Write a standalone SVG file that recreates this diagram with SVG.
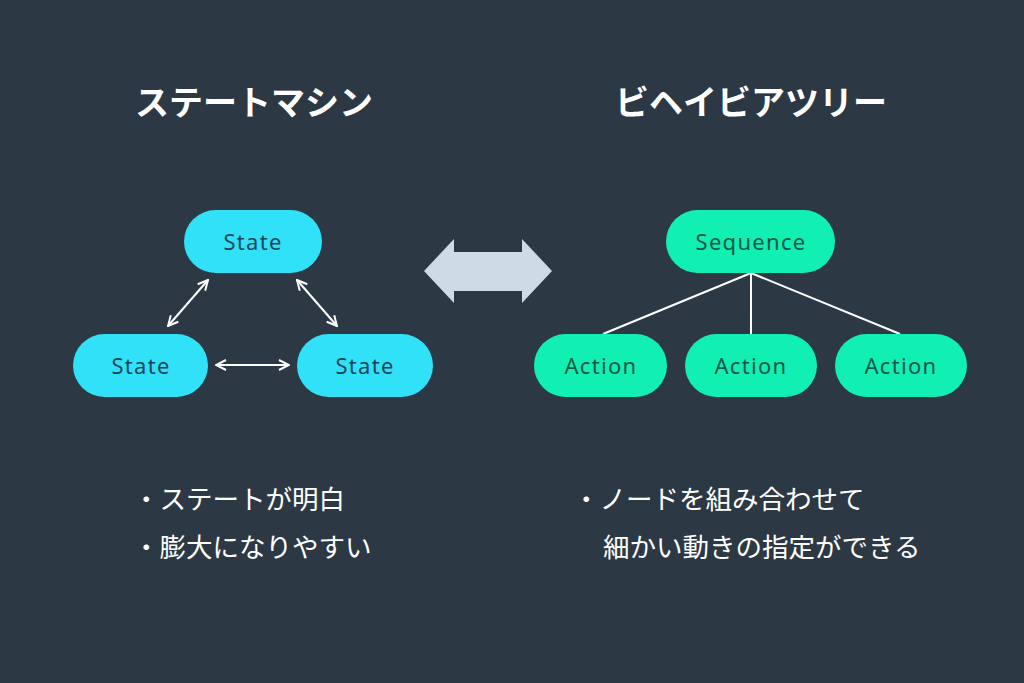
<svg xmlns="http://www.w3.org/2000/svg" width="1024" height="683" viewBox="0 0 1024 683">
<style>
.title{font-family:"Noto Sans CJK JP","Noto Sans",sans-serif;font-size:34px;font-weight:bold;fill:#ffffff;text-anchor:middle;dominant-baseline:central}
.bul{font-family:"Noto Sans CJK JP","Noto Sans",sans-serif;font-size:26.5px;fill:#ffffff;dominant-baseline:central}
.lbl{font-family:"Noto Sans","Open Sans",sans-serif;font-size:22px;letter-spacing:1.3px;text-anchor:middle;dominant-baseline:central}
.st rect{fill:#30e1f8}
.st text{fill:#1a4658}
.ac rect{fill:#12efb3}
.ac text{fill:#0f5847}
.arr{stroke:#ffffff;stroke-width:2;fill:none;marker-start:url(#ah);marker-end:url(#ah)}
.tree{stroke:#ffffff;stroke-width:2;fill:none}
</style>
<defs>
<marker id="ah" viewBox="0 0 12 12" refX="11" refY="6" markerWidth="12" markerHeight="12" markerUnits="userSpaceOnUse" orient="auto-start-reverse">
<path d="M1,1 L11,6 L1,11" fill="none" stroke="#ffffff" stroke-width="2"/>
</marker>
</defs>
<rect width="1024" height="683" fill="#2c3945"/>
<text class="title" x="254" y="100">ステートマシン</text>
<text class="title" x="751" y="100">ビヘイビアツリー</text>
<g id="connectors">
<line class="arr" x1="208" y1="280" x2="168" y2="326"/>
<line class="arr" x1="297" y1="280" x2="337" y2="326"/>
<line class="arr" x1="216" y1="365" x2="289" y2="365"/>
<line class="tree" x1="751" y1="273" x2="603" y2="334"/>
<line class="tree" x1="751" y1="273" x2="751" y2="334"/>
<line class="tree" x1="751" y1="273" x2="900" y2="334"/>
<polygon id="bigarrow" points="424,271 454,239 454,252 522,252 522,239 552,271 522,303 522,291 454,291 454,303" fill="#cfdbe4"/>
</g>
<g id="state-top" class="st"><rect x="184" y="210" width="138" height="63" rx="31.5"/><text class="lbl" x="253" y="241">State</text></g>
<g id="state-left" class="st"><rect x="73" y="334" width="135" height="63" rx="31.5"/><text class="lbl" x="141" y="365">State</text></g>
<g id="state-right" class="st"><rect x="297" y="334" width="136" height="63" rx="31.5"/><text class="lbl" x="365" y="365">State</text></g>
<g id="sequence" class="ac"><rect x="666" y="210" width="169" height="63" rx="31.5"/><text class="lbl" x="751" y="241">Sequence</text></g>
<g id="action1" class="ac"><rect x="534" y="334" width="133" height="63" rx="31.5"/><text class="lbl" x="601" y="365">Action</text></g>
<g id="action2" class="ac"><rect x="685" y="334" width="132" height="63" rx="31.5"/><text class="lbl" x="751" y="365">Action</text></g>
<g id="action3" class="ac"><rect x="835" y="334" width="132" height="63" rx="31.5"/><text class="lbl" x="901" y="365">Action</text></g>
<text class="bul" x="133" y="497">・ステートが明白</text>
<text class="bul" x="133" y="545">・膨大になりやすい</text>
<text class="bul" x="573" y="497">・ノードを組み合わせて</text>
<text class="bul" x="603" y="545">細かい動きの指定ができる</text>
</svg>
